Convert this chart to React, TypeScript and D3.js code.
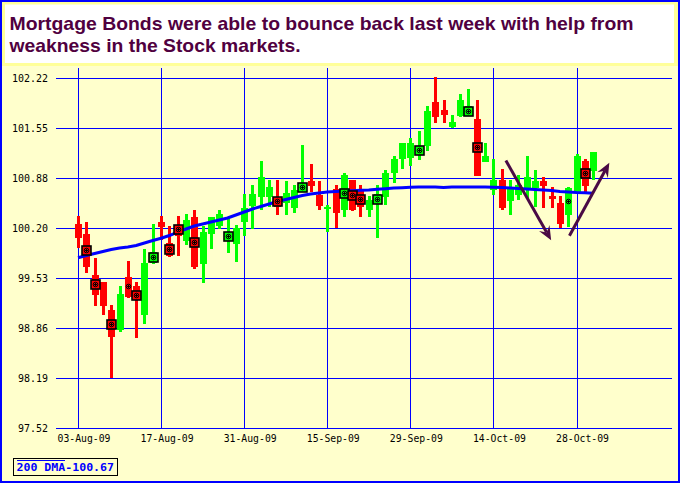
import React from "react";
import * as d3 from "d3";

const title1 = "Mortgage Bonds were able to bounce back last week with help from";
const title2 = "weakness in the Stock markets.";

const dates = [
  "03-Aug-09","04-Aug-09","05-Aug-09","06-Aug-09","07-Aug-09",
  "10-Aug-09","11-Aug-09","12-Aug-09","13-Aug-09","14-Aug-09",
  "17-Aug-09","18-Aug-09","19-Aug-09","20-Aug-09","21-Aug-09",
  "24-Aug-09","25-Aug-09","26-Aug-09","27-Aug-09","28-Aug-09",
  "31-Aug-09","01-Sep-09","02-Sep-09","03-Sep-09","04-Sep-09",
  "08-Sep-09","09-Sep-09","10-Sep-09","11-Sep-09","14-Sep-09",
  "15-Sep-09","16-Sep-09","17-Sep-09","18-Sep-09","21-Sep-09",
  "22-Sep-09","23-Sep-09","24-Sep-09","25-Sep-09","28-Sep-09",
  "29-Sep-09","30-Sep-09","01-Oct-09","02-Oct-09","05-Oct-09",
  "06-Oct-09","07-Oct-09","08-Oct-09","09-Oct-09","13-Oct-09",
  "14-Oct-09","15-Oct-09","16-Oct-09","19-Oct-09","20-Oct-09",
  "21-Oct-09","22-Oct-09","23-Oct-09","26-Oct-09","27-Oct-09",
  "28-Oct-09","29-Oct-09","30-Oct-09",
];

const opens = [
  100.26,100.12,99.57,99.48,99.10,98.83,99.54,99.42,99.03,99.73,
  100.29,100.00,100.23,100.03,100.35,99.72,100.12,100.23,100.05,99.99,
  100.28,100.50,100.62,100.62,100.60,100.54,100.47,100.70,100.83,100.65,
  100.46,100.73,100.44,100.85,100.71,100.44,100.54,100.62,100.94,101.13,
  101.15,101.18,101.31,101.89,101.79,101.56,101.71,101.74,101.67,101.09,
  100.72,100.85,100.56,100.65,100.74,100.74,100.83,100.63,100.54,100.38,
  100.68,101.11,100.97,
];
const highs = [
  100.36,100.29,99.80,99.48,99.17,99.42,99.76,99.48,99.92,100.26,
  100.36,100.23,100.36,100.39,100.45,100.23,100.35,100.45,100.34,100.25,
  100.66,100.78,101.10,100.85,100.85,100.83,100.78,101.32,101.06,100.83,
  100.51,100.78,100.94,100.85,100.78,100.63,100.78,100.98,101.17,101.35,
  101.41,101.51,101.84,102.23,101.92,101.72,102.00,102.07,101.92,101.35,
  101.13,100.99,100.85,100.92,101.17,100.98,100.89,100.75,100.63,100.75,
  101.20,101.13,101.23,
];
const lows = [
  99.93,99.60,99.16,99.03,98.19,98.81,99.27,98.72,98.91,99.72,
  100.04,99.81,99.83,99.97,99.66,99.47,99.92,100.19,99.87,99.75,
  100.09,100.19,100.45,100.49,100.38,100.38,100.41,100.69,100.69,100.45,
  100.15,100.20,100.35,100.43,100.35,100.35,100.07,100.51,100.81,101.00,
  101.03,101.12,101.24,101.62,101.62,101.55,101.69,101.71,100.90,101.09,
  100.65,100.44,100.38,100.58,100.60,100.49,100.47,100.47,100.20,100.22,
  100.67,100.66,100.85,
];
const closes = [
  100.07,99.68,99.30,99.16,98.74,99.32,99.28,99.24,99.73,99.88,
  100.22,99.83,100.09,100.31,99.68,100.15,100.35,100.39,100.15,100.21,
  100.47,100.66,100.89,100.76,100.49,100.67,100.71,100.80,100.77,100.50,
  100.49,100.41,100.92,100.44,100.49,100.58,100.66,100.94,101.13,101.35,
  101.35,101.31,101.77,101.69,101.72,101.63,101.92,101.84,100.90,101.17,
  100.85,100.47,100.74,100.78,100.89,100.83,100.77,100.59,100.26,100.74,
  101.17,100.77,101.23,
];
const dma200 = [
  99.805,99.835,99.862,99.888,99.915,99.935,99.949,99.969,100.003,100.036,
  100.066,100.103,100.150,100.191,100.231,100.258,100.285,100.311,100.338,100.379,
  100.419,100.459,100.493,100.526,100.560,100.587,100.614,100.641,100.661,100.674,
  100.688,100.694,100.701,100.705,100.710,100.714,100.724,100.732,100.741,100.745,
  100.751,100.755,100.755,100.755,100.748,100.755,100.755,100.755,100.755,100.755,
  100.751,100.748,100.741,100.735,100.728,100.721,100.714,100.708,100.694,100.688,
  100.681,100.678,100.670,
];

const boxMarkerIdx = [1,2,4,7,9,11,12,14,18,24,27,32,33,34,36,41,47,48,61];
const boxMarkerVal = [99.91,99.45,98.92,99.30,99.81,99.92,100.19,100.02,100.10,100.56,100.755,100.68,100.65,100.59,100.60,101.25,101.78,101.29,100.94];
const dotMarkerIdx = [6,59];
const dotMarkerVal = [99.42,100.57];

const yTickLabels = ["97.52","98.19","98.86","99.53","100.20","100.88","101.55","102.22"];
const yMin = 97.518;
const yStep = 0.6715;
const xTickIdx = [0,10,20,30,40,50,60];

const arrowFrom = [[51.5,101.11],[59.15,100.10]];
const arrowTo = [[56.95,100.04],[63.95,101.08]];

const legendLabel = "200 DMA-100.67";

const BG = "#ffffcc";
const BLUE = "#0000ff";
const RED = "#ff0000";
const GREEN = "#00ff00";
const PURPLE = "#4a0a45";

export default function App() {
  const W = 680, H = 483;
  const left = 56, right = 672, top = 68, bottom = 428;
  const x = d3.scaleLinear().domain([0, 60]).range([78, 576.5]);
  const y = d3.scaleLinear().domain([yMin, yMin + 7 * yStep]).range([428, 78]);
  const yTicks = d3.range(yTickLabels.length).map((i) => yMin + i * yStep);

  const dmaLine = d3.line<number>().x((_, i) => x(i)).y((d) => y(d))(dma200) || "";

  const arrowHead = (x1: number, y1: number, x2: number, y2: number) => {
    const a = Math.atan2(y2 - y1, x2 - x1);
    const L = 14, Wd = 6, N = 9;
    const bx = x2 - L * Math.cos(a), by = y2 - L * Math.sin(a);
    const nx = x2 - N * Math.cos(a), ny = y2 - N * Math.sin(a);
    const px = -Math.sin(a), py = Math.cos(a);
    return `M${x2},${y2}L${bx + px * Wd},${by + py * Wd}L${nx},${ny}L${bx - px * Wd},${by - py * Wd}Z`;
  };

  const mono = "'DejaVu Sans Mono', monospace";

  return (
    <svg width={W} height={H} style={{ position: "absolute", left: 0, top: 0, display: "block" }}>
      <rect x={1} y={1} width={W - 2} height={H - 2} fill={BG} stroke={BLUE} strokeWidth={2} />
      <rect x={2} y={2} width={676} height={64} fill="#ffff99" />
      <rect x={5} y={4.5} width={669} height={58.5} fill="#ffffff" />
      <text x={9.5} y={29.5} fontFamily="'Liberation Sans', Arial, sans-serif" fontWeight="bold" fontSize={19} fill="#500040" textLength={624} lengthAdjust="spacingAndGlyphs">{title1}</text>
      <text x={9.5} y={51.5} fontFamily="'Liberation Sans', Arial, sans-serif" fontWeight="bold" fontSize={19} fill="#500040" textLength={291} lengthAdjust="spacingAndGlyphs">{title2}</text>

      {/* grid */}
      <g shapeRendering="crispEdges">
        {yTicks.map((v, i) => (
          <line key={"h" + i} x1={left} x2={right} y1={Math.round(y(v)) + 0.5} y2={Math.round(y(v)) + 0.5} stroke={BLUE} strokeWidth={1} />
        ))}
        {xTickIdx.map((i) => (
          <line key={"v" + i} x1={Math.round(x(i)) + 0.5} x2={Math.round(x(i)) + 0.5} y1={top} y2={bottom} stroke={BLUE} strokeWidth={1} />
        ))}
      </g>
      {yTicks.map((v, i) => (
        <text key={"yl" + i} x={48} y={y(v) + 4} textAnchor="end" fontFamily={mono} fontSize={11} fill="#000" textLength={yTickLabels[i].length * 6} lengthAdjust="spacingAndGlyphs">{yTickLabels[i]}</text>
      ))}
      {xTickIdx.map((i) => (
        <text key={"xl" + i} x={x(i) - 20.5} y={441.5} fontFamily={mono} fontSize={11} fill="#000" textLength={53} lengthAdjust="spacingAndGlyphs">{dates[i]}</text>
      ))}

      {/* candles */}
      <g shapeRendering="crispEdges">
        {opens.map((o, i) => {
          const c = closes[i];
          const col = c >= o ? GREEN : RED;
          const cx = Math.round(x(i));
          const yt = y(Math.max(o, c));
          const yb = y(Math.min(o, c));
          return (
            <g key={"c" + i}>
              <rect x={cx - 1} y={y(highs[i])} width={3} height={Math.max(1, y(lows[i]) - y(highs[i]))} fill={col} />
              <rect x={cx - 3} y={yt} width={7} height={Math.max(2, yb - yt)} fill={col} />
            </g>
          );
        })}
      </g>

      <path d={dmaLine} fill="none" stroke={BLUE} strokeWidth={3} />

      {/* markers */}
      {boxMarkerIdx.map((idx, k) => {
        const cx = Math.round(x(idx)) + 0.5;
        const cy = Math.round(y(boxMarkerVal[k])) + 0.5;
        const col = closes[idx] >= opens[idx] ? GREEN : RED;
        return (
          <g key={"m" + k}>
            <rect x={cx - 4.5} y={cy - 4.5} width={9} height={9} fill={col} stroke="#000" strokeWidth={1.6} />
            <circle cx={cx} cy={cy} r={2.3} fill="none" stroke="#000" strokeWidth={1} />
            <line x1={cx - 1.5} x2={cx + 1.5} y1={cy} y2={cy} stroke="#000" strokeWidth={1} />
            <line x1={cx} x2={cx} y1={cy - 1.5} y2={cy + 1.5} stroke="#000" strokeWidth={1} />
          </g>
        );
      })}
      {dotMarkerIdx.map((idx, k) => {
        const cx = Math.round(x(idx)) + 0.5;
        const cy = Math.round(y(dotMarkerVal[k])) + 0.5;
        return (
          <g key={"d" + k}>
            <circle cx={cx} cy={cy} r={2.3} fill="none" stroke="#000" strokeWidth={1} />
            <line x1={cx - 1.5} x2={cx + 1.5} y1={cy} y2={cy} stroke="#000" strokeWidth={1} />
            <line x1={cx} x2={cx} y1={cy - 1.5} y2={cy + 1.5} stroke="#000" strokeWidth={1} />
          </g>
        );
      })}

      {/* arrows */}
      {arrowFrom.map((f, k) => {
        const x1 = x(f[0]), y1 = y(f[1]);
        const x2 = x(arrowTo[k][0]), y2 = y(arrowTo[k][1]);
        const a = Math.atan2(y2 - y1, x2 - x1);
        return (
          <g key={"a" + k}>
            <line x1={x1} y1={y1} x2={x2 - 9 * Math.cos(a)} y2={y2 - 9 * Math.sin(a)} stroke={PURPLE} strokeWidth={3} />
            <path d={arrowHead(x1, y1, x2, y2)} fill={PURPLE} />
          </g>
        );
      })}

      {/* legend */}
      <rect x={13.5} y={458.5} width={104} height={16.5} fill={BG} stroke="#000" strokeWidth={1} shapeRendering="crispEdges" />
      <line x1={16.5} x2={65} y1={460.5} y2={460.5} stroke={BLUE} strokeWidth={1} shapeRendering="crispEdges" />
      <text x={16.5} y={471} fontFamily={mono} fontWeight="bold" fontSize={11} fill={BLUE} textLength={97.5} lengthAdjust="spacingAndGlyphs">{legendLabel}</text>
    </svg>
  );
}
